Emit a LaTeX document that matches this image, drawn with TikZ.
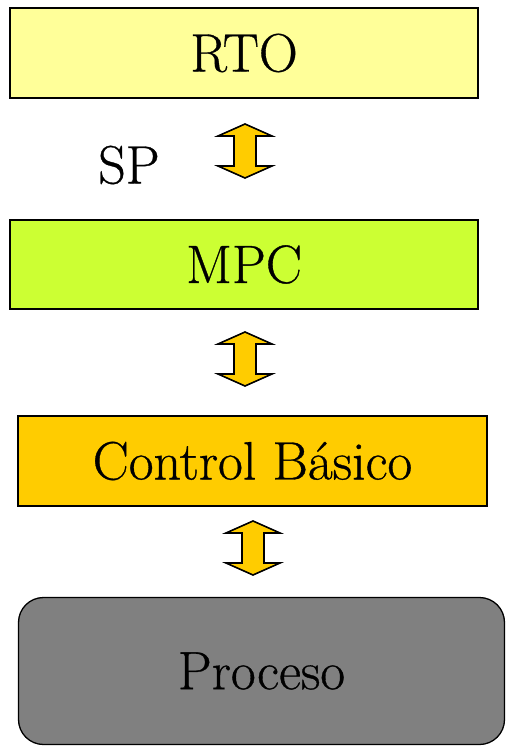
\documentclass[tikz,border=0pt]{standalone}
\usepackage{fontspec}
\setmainfont{Latin Modern Roman}[UprightFeatures={FakeBold=0.6}]
\begin{document}
\begin{tikzpicture}[x=1pt,y=-1pt,
  bigtext/.style={font=\rmfamily\fontsize{54}{58}\selectfont},
  layer/.style={bigtext,draw=black,line width=1.3pt,inner sep=0pt},
  updown/.style={fill={rgb,255:red,255;green,204;blue,0},draw=black,line width=1.6pt,line join=miter}]
\definecolor{rtoyellow}{RGB}{255,255,153}
\definecolor{mpcgreen}{RGB}{204,255,51}
\definecolor{basicgold}{RGB}{255,204,0}
\definecolor{procgray}{RGB}{128,128,128}
\useasboundingbox (0,0) rectangle (506,747);

% control hierarchy layers
\node[layer,fill=rtoyellow,minimum width=468pt,minimum height=90pt] (rto) at (244,53) {RTO};
\node[layer,fill=mpcgreen,minimum width=468pt,minimum height=89pt] (mpc) at (244,264.5) {MPC};
\node[layer,fill=basicgold,minimum width=469pt,minimum height=90pt] (basic) at (252.5,461) {Control Básico};
\node[layer,fill=procgray,rounded corners=25pt,minimum width=486pt,minimum height=147pt] (proc) at (261.5,671) {Proceso};

\node[bigtext,inner sep=0pt] (sp) at (129,165) {SP};

% double-headed block arrows between layers
\coordinate (a1) at (245,124);
\coordinate (a2) at (245,332);
\coordinate (a3) at (253,521);
\foreach \c in {a1,a2,a3}{
  \draw[updown] (\c) -- ++(27,12) -- ++(-16,0) -- ++(0,30) -- ++(16,0)
     -- ++(-27,12) -- ++(-27,-12) -- ++(16,0) -- ++(0,-30) -- ++(-16,0) -- cycle;
}
\end{tikzpicture}
\end{document}
